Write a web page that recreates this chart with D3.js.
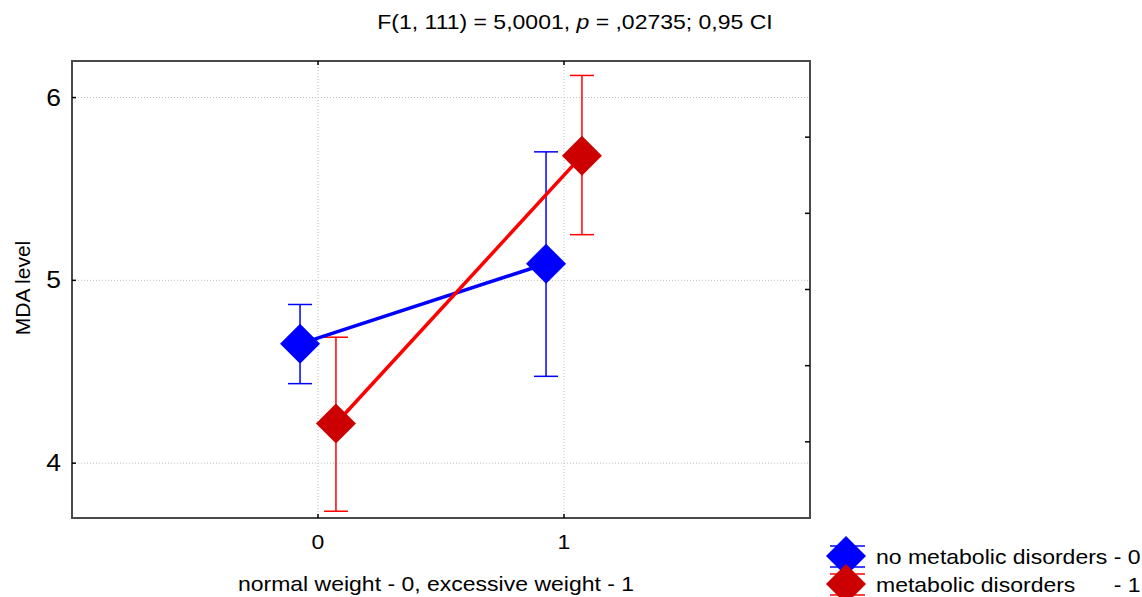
<!DOCTYPE html>
<html>
<head>
<meta charset="utf-8">
<script src="https://cdn.jsdelivr.net/npm/d3@7"></script>
<style>
  body { margin: 0; background: #fff; }
  text { font-family: "Liberation Sans", Arial, sans-serif; fill: #000; }
</style>
</head>
<body>
<script>
// x categories (weight group) and y ticks
var groups = [0, 1]
var groupLabels = ["0", "1"]
var yTicks = [4, 5, 6]

// no metabolic disorders - 0
var noMetMean = [4.653, 5.091]
var noMetLow = [4.435, 4.475]
var noMetHigh = [4.868, 5.703]

// metabolic disorders - 1
var metMean = [4.217, 5.682]
var metLow = [3.737, 5.25]
var metHigh = [4.689, 6.121]

var seriesNames = ["no metabolic disorders - 0", "metabolic disorders      - 1"]

var w = 1142, h = 597
var pLeft = 72, pRight = 810, pTop = 61, pBottom = 518
var SX = 1.15   // the picture's text is a bit wide

var svg = d3.select("body").append("svg")
  .attr("width", w)
  .attr("height", h)

var x = d3.scaleLinear().domain([-1, 2]).range([pLeft, pRight])
var y = d3.scaleLinear().domain([3.7, 6.2]).range([pBottom, pTop])
// right axis just splits the height in six
var yRight = d3.scaleLinear().domain([0, 6]).range([pBottom, pTop])

// stretched text helper
function label(px, py, size, anchor, str) {
  return svg.append("text")
    .attr("transform", "translate(" + px + "," + py + ") scale(" + SX + ",1)")
    .style("font-size", size + "px")
    .style("text-anchor", anchor)
    .text(str)
}

// grid
svg.selectAll(".hgrid").data(yTicks).enter().append("line")
  .attr("x1", pLeft).attr("x2", pRight)
  .attr("y1", function(d) { return y(d) }).attr("y2", function(d) { return y(d) })
  .attr("stroke", "#bdbdbd").attr("stroke-width", 1).attr("stroke-dasharray", "1,2")
svg.selectAll(".vgrid").data(groups).enter().append("line")
  .attr("y1", pTop).attr("y2", pBottom)
  .attr("x1", function(d) { return x(d) }).attr("x2", function(d) { return x(d) })
  .attr("stroke", "#bdbdbd").attr("stroke-width", 1).attr("stroke-dasharray", "1,2")

// frame
svg.append("rect")
  .attr("x", pLeft).attr("y", pTop)
  .attr("width", pRight - pLeft).attr("height", pBottom - pTop)
  .attr("fill", "none").attr("stroke", "#4a4a4a").attr("stroke-width", 2)

// small inner ticks
svg.selectAll(".lt").data(yTicks).enter().append("line")
  .attr("x1", pLeft).attr("x2", pLeft + 4)
  .attr("y1", function(d) { return y(d) }).attr("y2", function(d) { return y(d) })
  .attr("stroke", "#000").attr("stroke-width", 1.5)
svg.selectAll(".rt").data([1, 2, 3, 4, 5]).enter().append("line")
  .attr("x1", pRight - 5).attr("x2", pRight)
  .attr("y1", function(d) { return yRight(d) }).attr("y2", function(d) { return yRight(d) })
  .attr("stroke", "#000").attr("stroke-width", 1.5)
svg.selectAll(".bt").data(groups).enter().append("line")
  .attr("x1", function(d) { return x(d) }).attr("x2", function(d) { return x(d) })
  .attr("y1", pBottom - 4).attr("y2", pBottom)
  .attr("stroke", "#000").attr("stroke-width", 1.5)
svg.selectAll(".tt").data(groups).enter().append("line")
  .attr("x1", function(d) { return x(d) }).attr("x2", function(d) { return x(d) })
  .attr("y1", pTop).attr("y2", pTop + 4)
  .attr("stroke", "#000").attr("stroke-width", 1.5)

// tick labels
yTicks.forEach(function(d) {
  label(61, y(d), 23, "end", d).attr("dy", "0.35em")
})
groups.forEach(function(d, i) {
  label(x(d), 549, 20, "middle", groupLabels[i])
})

// axis titles
label(436, 591, 20, "middle", "normal weight - 0, excessive weight - 1")
svg.append("text")
  .attr("transform", "translate(30,288) rotate(-90)")
  .style("font-size", "21px")
  .style("text-anchor", "middle")
  .text("MDA level")

// title with italic p
var title = label(575, 29, 20, "middle", "")
title.append("tspan").text("F(1, 111) = 5,0001, ")
title.append("tspan").style("font-style", "italic").text("p")
title.append("tspan").text(" = ,02735; 0,95 CI")

// series
var series = [
  {mean: noMetMean, low: noMetLow, high: noMetHigh, off: -0.073, line: "#0000ff", err: "#0000ff", fill: "#0000ff"},
  {mean: metMean, low: metLow, high: metHigh, off: 0.073, line: "#ff0000", err: "#ff0000", fill: "#cc0000"}
]

var diamond = d3.symbol().type(d3.symbolSquare).size(800)
var capW = 12

series.forEach(function(s) {
  var eb = svg.append("g")
  groups.forEach(function(g, i) {
    var px = x(g + s.off), lo = y(s.low[i]), hi = y(s.high[i])
    eb.append("line").attr("x1", px).attr("x2", px).attr("y1", lo).attr("y2", hi)
      .attr("stroke", s.err).attr("stroke-width", 1.5)
    eb.append("line").attr("x1", px - capW).attr("x2", px + capW).attr("y1", lo).attr("y2", lo)
      .attr("stroke", s.err).attr("stroke-width", 1.5)
    eb.append("line").attr("x1", px - capW).attr("x2", px + capW).attr("y1", hi).attr("y2", hi)
      .attr("stroke", s.err).attr("stroke-width", 1.5)
  })
})

series.forEach(function(s) {
  var pts = groups.map(function(g, i) {
    return {x: x(g + s.off), m: y(s.mean[i])}
  })
  svg.append("path")
    .attr("d", d3.line().x(function(d) { return d.x }).y(function(d) { return d.m })(pts))
    .attr("fill", "none").attr("stroke", s.line).attr("stroke-width", 3.5)
  svg.selectAll(null).data(pts).enter().append("path")
    .attr("d", diamond)
    .attr("transform", function(d) { return "translate(" + d.x + "," + d.m + ") rotate(45)" })
    .attr("fill", s.fill)
})

// legend
var legY = [556, 584]
series.forEach(function(s, i) {
  var cy = legY[i]
  svg.append("line").attr("x1", 830).attr("x2", 865).attr("y1", cy - 10).attr("y2", cy - 10)
    .attr("stroke", s.err).attr("stroke-width", 1.5)
  svg.append("line").attr("x1", 830).attr("x2", 865).attr("y1", cy + 11).attr("y2", cy + 11)
    .attr("stroke", s.err).attr("stroke-width", 1.5)
  svg.append("path").attr("d", diamond)
    .attr("transform", "translate(846," + cy + ") rotate(45)")
    .attr("fill", s.fill)
  label(876, cy + 8, 20, "start", seriesNames[i]).style("white-space", "pre")
})
</script>
</body>
</html>
